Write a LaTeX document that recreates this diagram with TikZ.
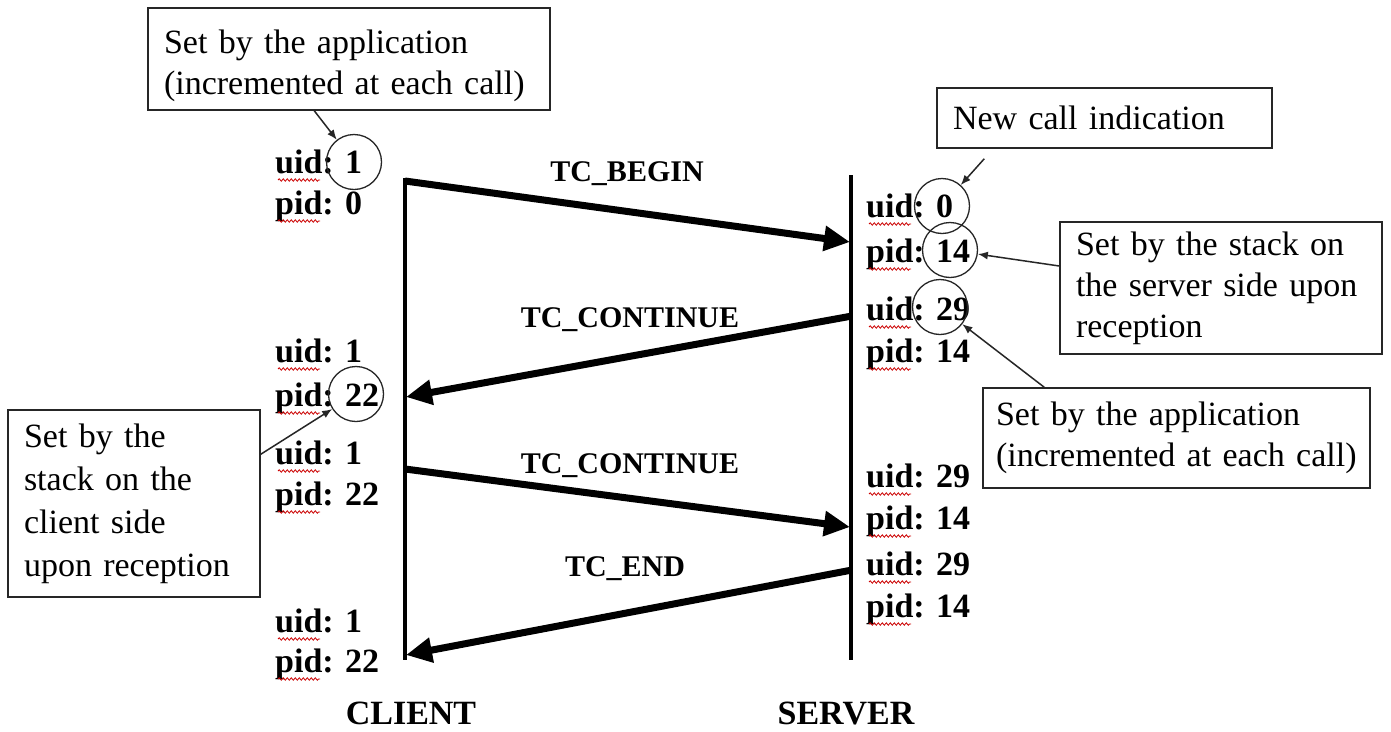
\documentclass[tikz,border=0pt]{standalone}
\usepackage{fontspec}
\setmainfont{Liberation Serif}
\usetikzlibrary{arrows.meta,decorations.pathmorphing}
\newcommand\idlab[3]{%
  \node[lbl] (#1) at (#2) {#3};
  \draw[spell] ([shift={(3,7)}]#1.base west) -- ++(42,0);}
\begin{document}
\begin{tikzpicture}[x=1pt,y=-1pt,
  lbl/.style={font=\fontsize{34}{40}\selectfont\bfseries, inner sep=0pt, anchor=base west},
  msg/.style={font=\fontsize{30}{36}\selectfont\bfseries, inner sep=0pt, anchor=base},
  note/.style={draw=black!85, line width=1.5pt, font=\fontsize{34}{41}\selectfont, align=left, inner xsep=16pt, inner ysep=0pt},
  ring/.style={draw=black!85, circle, minimum size=55pt, line width=1.3pt, inner sep=0pt},
  life/.style={line width=4pt},
  big/.style={line width=7pt, -{Triangle[length=26pt,width=24pt]}},
  thinarrow/.style={line width=1.5pt, draw=black!85, -{Latex[length=10pt,width=8pt]}},
  spell/.style={red!80!black, line width=0.8pt, decorate, decoration={snake, amplitude=1.2pt, segment length=4pt}}]

\useasboundingbox[fill=white] (0,0) rectangle (1391,731);

% note boxes
\node[note, text width=370pt, minimum height=102pt] (b1) at (349,59) {\rule{0pt}{38pt}Set by the application\\(incremented at each call)};
\node[note, text width=303pt, minimum height=60pt] (b2) at (1104.5,118) {New call indication};
\node[note, text width=290pt, minimum height=132pt] (b3) at (1221,288) {Set by the stack on\\the server side upon\\reception};
\node[note, inner xsep=13pt, text width=361pt, minimum height=100pt] (b4) at (1176.5,438) {Set by the application\\(incremented at each call)};
\node[note, font=\fontsize{34}{43}\selectfont, text width=220pt, minimum height=187pt] (b5) at (134,503.5) {Set by the\\stack on the\\client side\\upon reception};

% lifelines
\coordinate (ctop) at (405,178);
\coordinate (cbot) at (405,660);
\coordinate (stop) at (851,175);
\coordinate (sbot) at (851,660);
\draw[life] (ctop) -- (cbot);
\draw[life] (stop) -- (sbot);

% client labels
\idlab{cu1}{275,173}{uid: 1}
\idlab{cp1}{275,214}{pid: 0}
\idlab{cu2}{275,362}{uid: 1}
\idlab{cp2}{275,406}{pid: 22}
\idlab{cu3}{275,464}{uid: 1}
\idlab{cp3}{275,505}{pid: 22}
\idlab{cu4}{275,632}{uid: 1}
\idlab{cp4}{275,672}{pid: 22}

% server labels
\idlab{su1}{866,217}{uid: 0}
\idlab{sp1}{866,262}{pid: 14}
\idlab{su2}{866,320}{uid: 29}
\idlab{sp2}{866,362}{pid: 14}
\idlab{su3}{866,487}{uid: 29}
\idlab{sp3}{866,529}{pid: 14}
\idlab{su4}{866,575}{uid: 29}
\idlab{sp4}{866,617}{pid: 14}

% circles
\node[ring] (c1) at (354,162) {};
\node[ring] (c22) at (356,394) {};
\node[ring] (c0) at (942,206) {};
\node[ring] (c14) at (950,250) {};
\node[ring] (c29) at (940,307) {};

% messages
\coordinate (m1a) at (405,181);
\coordinate (m1b) at (850,242);
\coordinate (m2a) at (852,316);
\coordinate (m2b) at (406,397);
\coordinate (m3a) at (405,469);
\coordinate (m3b) at (850,527);
\coordinate (m4a) at (852,570);
\coordinate (m4b) at (406,655);
\draw[big] (m1a) -- (m1b);
\draw[big] (m2a) -- (m2b);
\draw[big] (m3a) -- (m3b);
\draw[big] (m4a) -- (m4b);
\node[msg] (t1) at (627,181) {TC\_BEGIN};
\node[msg] (t2) at (630,327) {TC\_CONTINUE};
\node[msg] (t3) at (630,473) {TC\_CONTINUE};
\node[msg] (t4) at (625,576) {TC\_END};

% callout arrows
\draw[thinarrow] (b1.south west) ++(167,0) -- (c1);
\draw[thinarrow] (b2.south west) ++(48,10) -- (c0);
\draw[thinarrow] (b3.west) ++(0,-22) -- (c14);
\draw[thinarrow] (b4.north west) ++(62,0) -- (c29);
\draw[thinarrow] (b5.north east) ++(0,45) -- (c22);

% actors
\node[lbl, anchor=base] (client) at (411,724) {CLIENT};
\node[lbl, anchor=base] (server) at (846,724) {SERVER};
\end{tikzpicture}
\end{document}
